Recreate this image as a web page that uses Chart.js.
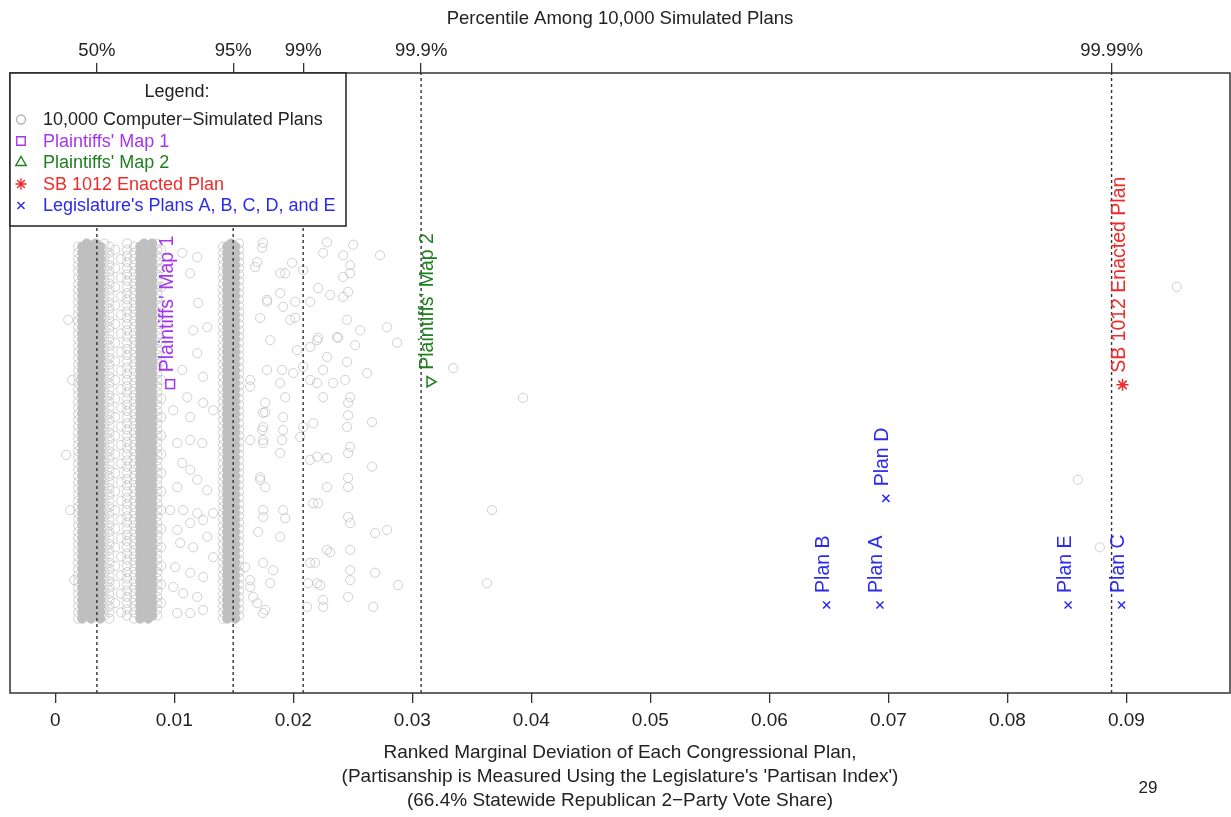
<!DOCTYPE html>
<html>
<head>
<meta charset="utf-8">
<script src="https://cdn.jsdelivr.net/npm/chart.js@4.4.0/dist/chart.umd.min.js"></script>
<style>
  html, body { margin: 0; padding: 0; background: #fff; overflow: hidden; }
  canvas { display: block; }
</style>
</head>
<body>
<canvas id="chart" width="1231" height="817"></canvas>
<script>
// bottom axis
const xMin = -0.0038;
const xMax = 0.0987;
const xTicks = [0, 0.01, 0.02, 0.03, 0.04, 0.05, 0.06, 0.07, 0.08, 0.09];
const xTickLabels = ["0", "0.01", "0.02", "0.03", "0.04", "0.05", "0.06", "0.07", "0.08", "0.09"];

// percentile cut points (top axis + dashed lines)
const pctValues = [0.0035, 0.01495, 0.02083, 0.03074, 0.08875];
const pctLabels = ["50%", "95%", "99%", "99.9%", "99.99%"];

// dense bands of simulated plans: x columns and jitter rows (y has no scale)
const band1CoreX = [0.00227, 0.00265, 0.00302, 0.00340, 0.00378];
const band2CoreX = [0.00714, 0.00747, 0.00781, 0.00815];
const band3CoreX = [0.01445, 0.01478, 0.01512];
const bandEdgeX = [0.00193, 0.00412, 0.00663, 0.00857, 0.01411, 0.01545];
const midX = [0.00454, 0.00504, 0.00554, 0.00604];
const farEdgeX = [0.00890];

const rowsA = [12, 13, 14, 15, 16, 17, 18, 19, 20, 21, 22, 23, 24, 25, 26, 27, 28, 29, 30, 31,
  32, 33, 34, 35, 36, 37, 38, 39, 40, 41, 42, 43, 44, 45, 46, 47, 48, 49, 50, 51, 52, 53, 54,
  55, 56, 57, 58, 59, 60, 61, 62, 63, 64, 65, 66, 67, 68, 69, 70, 71, 72];
const rowsB = [12.5, 13.5, 14.5, 15.5, 16.5, 17.5, 18.5, 19.5, 20.5, 21.5, 22.5, 23.5, 24.5,
  25.5, 26.5, 27.5, 28.5, 29.5, 30.5, 31.5, 32.5, 33.5, 34.5, 35.5, 36.5, 37.5, 38.5, 39.5,
  40.5, 41.5, 42.5, 43.5, 44.5, 45.5, 46.5, 47.5, 48.5, 49.5, 50.5, 51.5, 52.5, 53.5, 54.5,
  55.5, 56.5, 57.5, 58.5, 59.5, 60.5, 61.5, 62.5, 63.5, 64.5, 65.5, 66.5, 67.5, 68.5, 69.5,
  70.5, 71.5, 72.5];
const rowsSparseA = [13, 16, 19, 22, 25, 28, 31, 34, 37, 40, 43, 46, 49, 52, 55, 58, 61, 64, 67, 70];
const rowsSparseB = [14.5, 17.5, 20.5, 23.5, 26.5, 29.5, 32.5, 35.5, 38.5, 41.5, 44.5, 47.5,
  50.5, 53.5, 56.5, 59.5, 62.5, 65.5, 68.5, 71.5];

// scattered simulated plans [x, y]
const scatterPlans = [
  [0.00109, 60.2], [0.00092, 38.4], [0.00143, 50.5], [0.00126, 29.5], [0.00160, 18.2],
  [0.00991, 45.6], [0.00966, 29.5], [0.00991, 17.1], [0.01008, 20.3], [0.01025, 40.3],
  [0.01025, 33.2], [0.01025, 26.3], [0.01025, 12.9], [0.01050, 24.2], [0.01067, 71.0],
  [0.01067, 52.1], [0.01067, 37.1], [0.01075, 29.5], [0.01075, 16.1], [0.01109, 47.7],
  [0.01134, 67.7], [0.01134, 44.5], [0.01134, 40.8], [0.01134, 36.0], [0.01134, 27.4],
  [0.01134, 19.4], [0.01134, 12.9], [0.01159, 58.5], [0.01159, 23.5], [0.01193, 70.3],
  [0.01193, 54.8], [0.01193, 34.4], [0.01193, 29.0], [0.01193, 15.5], [0.01201, 62.9],
  [0.01235, 40.3], [0.01243, 51.0], [0.01243, 46.8], [0.01243, 27.9], [0.01243, 18.7],
  [0.01243, 13.4], [0.01277, 59.0], [0.01277, 32.7], [0.01277, 25.2], [0.01327, 45.6],
  [0.01327, 29.0], [0.01327, 21.9],
  [0.01596, 20.3], [0.01638, 50.5], [0.01638, 49.4], [0.01638, 40.8], [0.01638, 18.2],
  [0.01638, 17.1], [0.01663, 15.5], [0.01680, 68.7], [0.01697, 69.5], [0.01697, 14.5],
  [0.01705, 26.0], [0.01722, 60.5], [0.01722, 34.8], [0.01722, 34.4], [0.01739, 71.8],
  [0.01739, 42.4], [0.01747, 72.6], [0.01747, 45.2], [0.01747, 42.9], [0.01747, 40.8],
  [0.01747, 40.3], [0.01747, 29.5], [0.01747, 28.4], [0.01747, 21.0], [0.01747, 12.9],
  [0.01764, 46.8], [0.01764, 45.3], [0.01764, 33.2], [0.01764, 13.4], [0.01780, 63.1],
  [0.01780, 63.4], [0.01780, 52.1], [0.01806, 56.9], [0.01806, 17.7], [0.01831, 19.8],
  [0.01890, 64.5], [0.01890, 67.7], [0.01890, 50.0], [0.01890, 38.7], [0.01890, 25.2],
  [0.01906, 52.1], [0.01906, 40.8], [0.01915, 62.3], [0.01915, 44.5], [0.01915, 42.4],
  [0.01915, 29.5], [0.01932, 67.7], [0.01932, 47.7], [0.01932, 28.2], [0.01974, 60.2],
  [0.01990, 69.4], [0.01999, 51.6], [0.02016, 63.1], [0.02016, 60.5], [0.02032, 55.3],
  [0.02058, 41.3], [0.02083, 68.2], [0.02083, 52.6], [0.02083, 42.9], [0.02116, 13.9],
  [0.02125, 17.7], [0.02142, 63.1], [0.02142, 55.8], [0.02142, 50.5], [0.02142, 37.6],
  [0.02142, 21.0], [0.02167, 43.5], [0.02167, 30.6], [0.02184, 21.0], [0.02200, 56.9],
  [0.02200, 50.0], [0.02200, 38.1], [0.02200, 17.7], [0.02209, 65.3], [0.02209, 57.3],
  [0.02209, 30.6], [0.02226, 17.4], [0.02251, 71.0], [0.02251, 52.1], [0.02251, 47.7],
  [0.02251, 15.0], [0.02251, 13.9], [0.02284, 72.7], [0.02284, 54.2], [0.02284, 37.9],
  [0.02284, 33.2], [0.02284, 23.1], [0.02310, 64.2], [0.02310, 22.7], [0.02335, 50.0],
  [0.02368, 57.4], [0.02377, 57.3], [0.02419, 70.6], [0.02419, 67.1], [0.02419, 63.9],
  [0.02436, 50.5], [0.02452, 60.2], [0.02452, 53.4], [0.02452, 42.9], [0.02461, 64.7],
  [0.02461, 46.8], [0.02461, 44.8], [0.02461, 38.7], [0.02461, 34.7], [0.02461, 33.2],
  [0.02461, 28.4], [0.02461, 15.5], [0.02478, 69.0], [0.02478, 67.7], [0.02478, 47.7],
  [0.02478, 39.7], [0.02478, 27.4], [0.02478, 23.1], [0.02478, 19.8], [0.02478, 18.2],
  [0.02503, 72.3], [0.02520, 56.1], [0.02562, 58.5], [0.02620, 51.6], [0.02662, 43.7],
  [0.02662, 36.5], [0.02671, 13.9], [0.02688, 25.8], [0.02688, 19.4], [0.02729, 70.6],
  [0.02788, 59.0], [0.02788, 26.3], [0.02872, 56.5], [0.02881, 17.4],
  [0.03343, 52.4], [0.03628, 17.7], [0.03670, 29.5], [0.03930, 47.6],
  [0.08592, 34.4], [0.08776, 23.5], [0.09423, 65.5]
];

// highlighted plans
const map1X = 0.00966, map1Y = 49.8;
const map2X = 0.03149, map2Y = 50.2;
const sbX = 0.08967, sbY = 49.7;
const planNames = ["Plan A", "Plan B", "Plan C", "Plan D", "Plan E"];
const planX = [0.06929, 0.06481, 0.08959, 0.06979, 0.08510];
const planY = [14.2, 14.2, 14.2, 31.4, 14.2];

const FONT = "'Liberation Sans', Arial, Helvetica, sans-serif";
const GRAY = "rgba(178,178,178,0.6)";
const CORE = "#bfbfbf";
const PURPLE = "#a336ee";
const GREEN = "#1f7f1f";
const RED = "#ef2a2a";
const BLUE = "#2a2aee";

function gridPoints(cols, rowSets) {
  const pts = [];
  cols.forEach((x, i) => rowSets[i % rowSets.length].forEach(y => pts.push({ x: x, y: y })));
  return pts;
}

const corePoints = [].concat(
  gridPoints(band1CoreX, [rowsA, rowsB]),
  gridPoints(band2CoreX, [rowsA, rowsB]),
  gridPoints(band3CoreX, [rowsA, rowsB])
);
const simPoints = [].concat(
  gridPoints(bandEdgeX, [rowsA, rowsB]),
  gridPoints(midX, [rowsA, rowsSparseB, rowsSparseA, rowsB]),
  gridPoints(farEdgeX, [rowsSparseB]),
  scatterPlans.map(p => ({ x: p[0], y: p[1] }))
);

const datasets = [
  {
    label: "10,000 Computer\u2212Simulated Plans",
    data: simPoints,
    pointStyle: "circle", pointRadius: 4.6, pointBorderWidth: 1,
    pointBorderColor: GRAY, pointBackgroundColor: "rgba(0,0,0,0)",
    order: 10
  },
  {
    data: corePoints,
    pointStyle: "circle", pointRadius: 4.6, pointBorderWidth: 1,
    pointBorderColor: CORE, pointBackgroundColor: CORE,
    order: 9
  }
];
pctValues.forEach(v => datasets.push({
  data: [{ x: v, y: 0 }, { x: v, y: 100 }],
  showLine: true, pointRadius: 0,
  borderColor: "#333", borderWidth: 1.4, borderDash: [3, 3],
  order: 5
}));
datasets.push({
  label: "Plaintiffs' Map 1", tag: "Plaintiffs' Map 1", color: PURPLE,
  data: [{ x: map1X, y: map1Y }],
  pointStyle: "rect", pointRadius: 6.2, pointBorderWidth: 1.5,
  pointBorderColor: PURPLE, pointBackgroundColor: "rgba(0,0,0,0)", order: 1
});
datasets.push({
  label: "Plaintiffs' Map 2", tag: "Plaintiffs' Map 2", color: GREEN,
  data: [{ x: map2X, y: map2Y }],
  pointStyle: "triangle", pointRotation: 90, pointRadius: 6, pointBorderWidth: 1.5,
  pointBorderColor: GREEN, pointBackgroundColor: "rgba(0,0,0,0)", order: 1
});
datasets.push({
  label: "SB 1012 Enacted Plan", tag: "SB 1012 Enacted Plan", color: RED,
  data: [{ x: sbX, y: sbY }],
  pointStyle: "star", pointRadius: 6, pointBorderWidth: 1.5,
  pointBorderColor: RED, pointBackgroundColor: RED, order: 1
});
datasets.push({
  label: "Legislature's Plans A, B, C, D, and E", tags: planNames, color: BLUE,
  data: planX.map((x, i) => ({ x: x, y: planY[i] })),
  pointStyle: "crossRot", pointRadius: 5, pointBorderWidth: 1.5,
  pointBorderColor: BLUE, pointBackgroundColor: BLUE, order: 1
});

const legendItems = [
  { text: "10,000 Computer\u2212Simulated Plans", color: "#222", sym: "circle", symColor: "#b5b5b5", r: 4.5 },
  { text: "Plaintiffs' Map 1", color: PURPLE, sym: "rect", symColor: PURPLE, r: 6 },
  { text: "Plaintiffs' Map 2", color: GREEN, sym: "triangle", symColor: GREEN, r: 6 },
  { text: "SB 1012 Enacted Plan", color: RED, sym: "star", symColor: RED, r: 5.5 },
  { text: "Legislature's Plans A, B, C, D, and E", color: BLUE, sym: "crossRot", symColor: BLUE, r: 5 }
];

const annotate = {
  id: "annotate",
  afterDraw(chart) {
    const ctx = chart.ctx;
    const a = chart.chartArea;
    ctx.save();

    // plot frame
    ctx.strokeStyle = "#333";
    ctx.lineWidth = 1.5;
    ctx.strokeRect(a.left, a.top, a.right - a.left, a.bottom - a.top);

    // rotated labels next to highlighted plans
    ctx.font = "19.5px " + FONT;
    ctx.textAlign = "left";
    ctx.textBaseline = "alphabetic";
    chart.data.datasets.forEach((ds, di) => {
      if (!ds.tag && !ds.tags) return;
      const meta = chart.getDatasetMeta(di);
      meta.data.forEach((pt, i) => {
        const txt = ds.tags ? ds.tags[i] : ds.tag;
        ctx.save();
        ctx.translate(pt.x + 2.5, pt.y - 12);
        ctx.rotate(-Math.PI / 2);
        ctx.fillStyle = ds.color;
        ctx.fillText(txt, 0, 0);
        ctx.restore();
      });
    });

    // legend box
    const lx = a.left, ly = a.top, lw = 336, lh = 153;
    ctx.fillStyle = "#fff";
    ctx.fillRect(lx, ly, lw, lh);
    ctx.strokeStyle = "#222";
    ctx.lineWidth = 1.5;
    ctx.strokeRect(lx, ly, lw, lh);
    ctx.font = "18px " + FONT;
    ctx.textBaseline = "middle";
    ctx.textAlign = "center";
    ctx.fillStyle = "#222";
    ctx.fillText("Legend:", lx + 167, ly + 19);
    ctx.textAlign = "left";
    legendItems.forEach((it, i) => {
      const y = ly + 46.5 + i * 21.5;
      ctx.strokeStyle = it.symColor;
      ctx.fillStyle = it.sym === "star" || it.sym === "crossRot" ? it.symColor : "rgba(0,0,0,0)";
      ctx.lineWidth = 1.4;
      Chart.helpers.drawPoint(ctx, { pointStyle: it.sym, radius: it.r, rotation: 0, borderWidth: 1.4 }, lx + 11, y);
      ctx.fillStyle = it.color;
      ctx.fillText(it.text, lx + 33, y + 1);
    });

    // page number
    ctx.fillStyle = "#222";
    ctx.font = "17px " + FONT;
    ctx.textAlign = "center";
    ctx.fillText("29", 1148, 788);
    ctx.restore();
  }
};

function noSidePadding(s) {
  s.paddingLeft = 0;
  s.paddingRight = 0;
}

new Chart(document.getElementById("chart"), {
  type: "scatter",
  data: { datasets: datasets },
  options: {
    responsive: false,
    animation: false,
    events: [],
    layout: { autoPadding: false, padding: { left: 10, right: 1, top: 0, bottom: 0 } },
    plugins: { legend: { display: false }, tooltip: { enabled: false } },
    scales: {
      x: {
        type: "linear", position: "bottom", min: xMin, max: xMax,
        afterBuildTicks: s => { s.ticks = xTicks.map(v => ({ value: v })); },
        afterFit: s => { s.height = 124; noSidePadding(s); },
        ticks: {
          callback: (v, i) => xTickLabels[i],
          color: "#222", font: { family: FONT, size: 19 }, padding: 6,
          maxRotation: 0, autoSkip: false
        },
        grid: { drawOnChartArea: false, drawTicks: true, tickLength: 10, color: "#333", lineWidth: 1.3 },
        border: { display: false },
        title: {
          display: true,
          text: [
            "Ranked Marginal Deviation of Each Congressional Plan,",
            "(Partisanship is Measured Using the Legislature's 'Partisan Index')",
            "(66.4% Statewide Republican 2\u2212Party Vote Share)"
          ],
          color: "#222", font: { family: FONT, size: 19, lineHeight: 1.263 },
          padding: { top: 0, bottom: 4 }
        }
      },
      x2: {
        type: "linear", position: "top", min: xMin, max: xMax,
        afterBuildTicks: s => { s.ticks = pctValues.map(v => ({ value: v })); },
        afterFit: s => { s.height = 73; noSidePadding(s); },
        ticks: {
          callback: (v, i) => pctLabels[i],
          color: "#222", font: { family: FONT, size: 18.5 }, padding: 1,
          maxRotation: 0, autoSkip: false
        },
        grid: { drawOnChartArea: false, drawTicks: true, tickLength: 10, color: "#333", lineWidth: 1.3 },
        border: { display: false },
        title: {
          display: true, text: "Percentile Among 10,000 Simulated Plans",
          color: "#222", font: { family: FONT, size: 18.5 },
          padding: { top: 8, bottom: 0 }
        }
      },
      y: { display: false, min: 0, max: 100 }
    }
  },
  plugins: [annotate]
});
</script>
</body>
</html>
